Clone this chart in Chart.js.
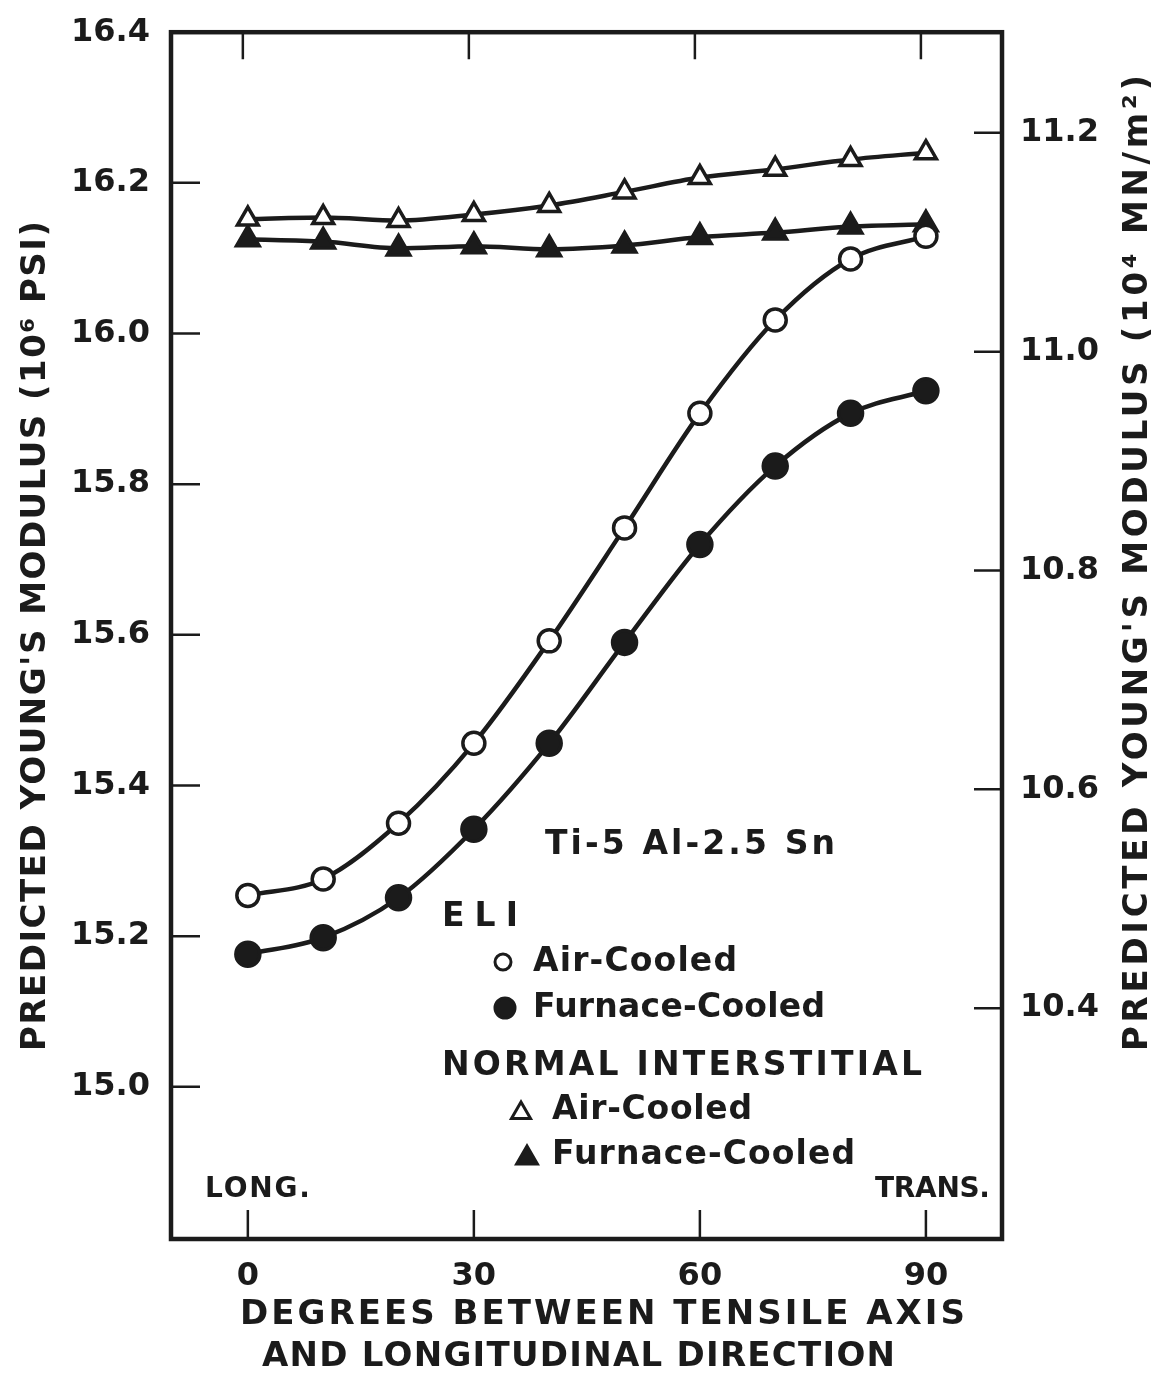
<!DOCTYPE html>
<html>
<head>
<meta charset="utf-8">
<script src="https://cdn.jsdelivr.net/npm/chart.js@4.4.0/dist/chart.umd.min.js"></script>
<style>
  html, body { margin: 0; padding: 0; background: #fff; }
  #wrap { width: 1151px; height: 1375px; }
</style>
</head>
<body>
<div id="wrap"><canvas id="chart" width="1151" height="1375"></canvas></div>
<script>
// values (10^6 psi)
const degrees = [0, 10, 20, 30, 40, 50, 60, 70, 80, 90];
const eliAirCooled = [15.254, 15.276, 15.350, 15.456, 15.592, 15.742, 15.894, 16.018, 16.099, 16.129];
const eliFurnaceCooled = [15.176, 15.198, 15.251, 15.342, 15.456, 15.590, 15.720, 15.824, 15.894, 15.924];
const normalAirCooled = [16.152, 16.154, 16.150, 16.158, 16.170, 16.188, 16.207, 16.218, 16.231, 16.240];
const normalFurnaceCooled = [16.125, 16.122, 16.113, 16.116, 16.112, 16.117, 16.128, 16.134, 16.142, 16.145];

const xTicks = [0, 30, 60, 90];
const psiTicks = [15.0, 15.2, 15.4, 15.6, 15.8, 16.0, 16.2, 16.4];
const mnTicks = [10.4, 10.6, 10.8, 11.0, 11.2];

const INK = "#1b1b1b";
const FONT = "'DejaVu Sans', sans-serif";

function points(values) {
    return degrees.map((d, i) => ({ x: d, y: values[i] }));
}

function lineSet(label, values, style, filled, radius) {
    return {
        label: label,
        data: points(values),
        yAxisID: "y",
        borderColor: INK,
        borderWidth: 4.5,
        cubicInterpolationMode: "monotone",
        pointStyle: style,
        pointRadius: radius,
        pointBorderWidth: 3.5,
        pointBorderColor: INK,
        pointBackgroundColor: filled ? INK : "#ffffff"
    };
}

// bold text, letter spacing adjusted to reach a target width
function spacedText(ctx, text, left, y, width, size) {
    ctx.font = `bold ${size}px ${FONT}`;
    ctx.textAlign = "left";
    ctx.textBaseline = "middle";
    if ("letterSpacing" in ctx) {
        ctx.letterSpacing = "0px";
        const natural = ctx.measureText(text).width;
        const gap = (width - natural) / Math.max(text.length - 1, 1);
        ctx.letterSpacing = gap + "px";
        ctx.fillText(text, left, y);
        ctx.letterSpacing = "0px";
    } else {
        const natural = ctx.measureText(text).width;
        ctx.save();
        ctx.translate(left, y);
        ctx.scale(width / natural, 1);
        ctx.fillText(text, 0, 0);
        ctx.restore();
    }
}

function marker(ctx, style, x, y, r, filled) {
    ctx.save();
    ctx.lineWidth = 3;
    ctx.strokeStyle = INK;
    ctx.fillStyle = filled ? INK : "#fff";
    ctx.beginPath();
    if (style === "circle") {
        ctx.arc(x, y, r, 0, Math.PI * 2);
    } else {
        ctx.moveTo(x, y - r);
        ctx.lineTo(x + r * 0.866, y + r * 0.5);
        ctx.lineTo(x - r * 0.866, y + r * 0.5);
        ctx.closePath();
    }
    ctx.fill();
    ctx.stroke();
    ctx.restore();
}

const paperFrame = {
    id: "paperFrame",
    afterDraw(chart) {
        const ctx = chart.ctx;
        const a = chart.chartArea;
        const xs = chart.scales.x, ys = chart.scales.y, ys2 = chart.scales.y2;
        ctx.save();
        ctx.strokeStyle = INK;
        ctx.fillStyle = INK;

        // frame
        ctx.lineWidth = 4.5;
        ctx.strokeRect(a.left, a.top, a.right - a.left, a.bottom - a.top);

        // inward ticks
        ctx.lineWidth = 2.5;
        ctx.beginPath();
        xTicks.forEach(v => {
            const px = xs.getPixelForValue(v);
            ctx.moveTo(px, a.bottom); ctx.lineTo(px, a.bottom - 29);
            ctx.moveTo(px - 5, a.top); ctx.lineTo(px - 5, a.top + 27);
        });
        psiTicks.forEach(v => {
            const py = ys.getPixelForValue(v);
            ctx.moveTo(a.left, py); ctx.lineTo(a.left + 29, py);
        });
        mnTicks.forEach(v => {
            const py = ys2.getPixelForValue(v);
            ctx.moveTo(a.right, py); ctx.lineTo(a.right - 28, py);
        });
        ctx.stroke();

        // axis titles
        spacedText(ctx, "DEGREES BETWEEN TENSILE AXIS", 240, 1315, 725, 34);
        spacedText(ctx, "AND LONGITUDINAL DIRECTION", 262, 1357, 633, 34);

        ctx.save();
        ctx.translate(36, 636);
        ctx.rotate(-Math.PI / 2);
        spacedText(ctx, "PREDICTED YOUNG'S MODULUS (10\u2076 PSI)", -415, 0, 830, 34);
        ctx.restore();

        ctx.save();
        ctx.translate(1138, 563);
        ctx.rotate(-Math.PI / 2);
        spacedText(ctx, "PREDICTED YOUNG'S MODULUS (10\u2074 MN/m\u00b2)", -488, 0, 976, 34);
        ctx.restore();

        // annotations and legend
        spacedText(ctx, "Ti-5 Al-2.5 Sn", 545, 845, 290, 33);
        spacedText(ctx, "ELI", 442, 917, 76, 33);
        marker(ctx, "circle", 503, 962, 8, false);
        spacedText(ctx, "Air-Cooled", 533, 962, 204, 33);
        marker(ctx, "circle", 505, 1008, 10, true);
        spacedText(ctx, "Furnace-Cooled", 533, 1008, 292, 33);
        spacedText(ctx, "NORMAL INTERSTITIAL", 442, 1066, 480, 33);
        marker(ctx, "triangle", 521, 1113, 11, false);
        spacedText(ctx, "Air-Cooled", 552, 1110, 200, 33);
        marker(ctx, "triangle", 527, 1158, 12, true);
        spacedText(ctx, "Furnace-Cooled", 552, 1155, 303, 33);
        spacedText(ctx, "LONG.", 205, 1190, 105, 28);
        spacedText(ctx, "TRANS.", 875, 1190, 115, 28);

        ctx.restore();
    }
};

const tickFont = { family: FONT, size: 32, weight: "bold" };

new Chart("chart", {
    type: "line",
    data: {
        datasets: [
            lineSet("ELI Air-Cooled", eliAirCooled, "circle", false, 11),
            lineSet("ELI Furnace-Cooled", eliFurnaceCooled, "circle", true, 12),
            lineSet("Normal Interstitial Air-Cooled", normalAirCooled, "triangle", false, 12),
            lineSet("Normal Interstitial Furnace-Cooled", normalFurnaceCooled, "triangle", true, 13)
        ]
    },
    options: {
        responsive: false,
        animation: false,
        devicePixelRatio: 1,
        layout: { padding: { top: 27, left: 0, right: 0, bottom: 0 } },
        plugins: {
            legend: { display: false },
            tooltip: { enabled: false }
        },
        scales: {
            x: {
                type: "linear",
                position: "bottom",
                min: -10.2,
                max: 100.1,
                grid: { display: false },
                border: { display: false },
                afterBuildTicks: s => { s.ticks = xTicks.map(v => ({ value: v })); },
                afterFit: s => { s.height = 136; },
                ticks: { font: tickFont, color: INK, padding: 10, maxRotation: 0, autoSkip: false }
            },
            y: {
                position: "left",
                min: 14.798,
                max: 16.4,
                grid: { display: false },
                border: { display: false },
                afterBuildTicks: s => { s.ticks = psiTicks.map(v => ({ value: v })); },
                afterFit: s => { s.width = 171; },
                ticks: { font: tickFont, color: INK, padding: 13, callback: v => v.toFixed(1) }
            },
            y2: {
                position: "right",
                min: 10.189,
                max: 11.292,
                grid: { display: false },
                border: { display: false },
                afterBuildTicks: s => { s.ticks = mnTicks.map(v => ({ value: v })); },
                afterFit: s => { s.width = 149; },
                ticks: { font: tickFont, color: INK, padding: 10, callback: v => v.toFixed(1) }
            }
        }
    },
    plugins: [paperFrame]
});
</script>
</body>
</html>
